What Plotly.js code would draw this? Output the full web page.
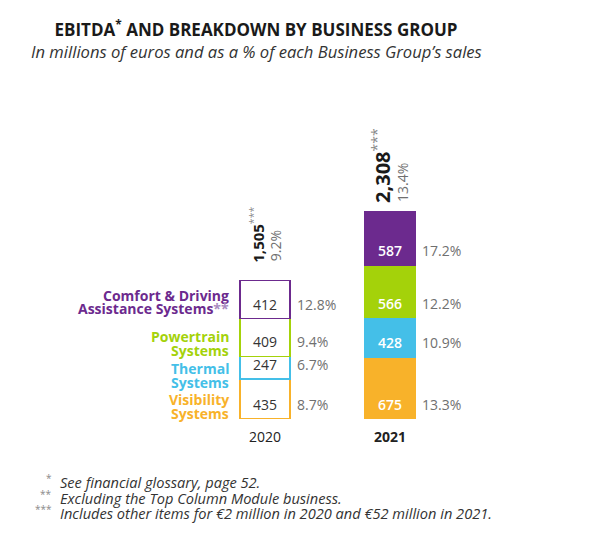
<!DOCTYPE html>
<html>
<head>
<meta charset="utf-8">
<script src="https://cdn.plot.ly/plotly-3.0.1.min.js"></script>
<style>
html,body{margin:0;padding:0;background:#fff;}
#chart{width:602px;height:544px;}
</style>
</head>
<body>
<div id="chart"></div>
<script>
// ---- data ----
const years = ['2020', '2021'];
const yearLabels = ['2020', '<b>2021</b>'];
const groupNames = ['Visibility Systems', 'Thermal Systems', 'Powertrain Systems', 'Comfort & Driving Assistance Systems'];
const visibility = [435, 675];
const thermal = [247, 428];
const powertrain = [409, 566];
const comfort = [412, 587];
const visibilityPct = ['8.7%', '13.3%'];
const thermalPct = ['6.7%', '10.9%'];
const powertrainPct = ['9.4%', '12.2%'];
const comfortPct = ['12.8%', '17.2%'];
const totals = ['1,505', '2,308'];
const totalPct = ['9.2%', '13.4%'];
const footnotes = [
  'See financial glossary, page 52.',
  'Excluding the Top Column Module business.',
  'Includes other items for €2 million in 2020 and €52 million in 2021.'
];
const footStars = ['*', '**', '***'];

// ---- styling ----
const colors = ['#F8B22A', '#44BFE8', '#A4D20A', '#6C2A8E'];
const series = [visibility, thermal, powertrain, comfort];
const pcts = [visibilityPct, thermalPct, powertrainPct, comfortPct];
const FONT = 'Open Sans, Noto Sans, sans-serif';
const W = 602, H = 544, T = 60, B = 125;
const plotH = H - T - B; // 359
const py = p => (H - B - p) / plotH;   // pixel y -> paper y
const px = p => p / W;                 // pixel x -> paper x
const xs = [0, 1];

const traces = series.map((vals, i) => ({
  type: 'bar',
  name: groupNames[i],
  x: xs,
  y: vals,
  width: 0.4,
  marker: {
    color: ['#ffffff', colors[i]],
    line: {color: colors[i], width: 1.5}
  },
  hoverinfo: 'skip',
  showlegend: false
}));

const annotations = [];
// segment value + percent labels
const base = [0, 0];
series.forEach((vals, i) => {
  vals.forEach((v, j) => {
    annotations.push({
      x: xs[j], y: base[j], xref: 'x', yref: 'y',
      text: String(v), showarrow: false,
      xanchor: 'center', yanchor: 'bottom', yshift: 3,
      font: {family: FONT, size: 14, color: j === 0 ? '#333333' : '#ffffff', weight: j === 0 ? 400 : 600}
    });
    annotations.push({
      x: xs[j], y: base[j], xref: 'x', yref: 'y',
      text: pcts[i][j], showarrow: false,
      xanchor: 'left', yanchor: 'bottom', yshift: 3, xshift: 30,
      font: {family: FONT, size: 14, color: '#707070'}
    });
    base[j] += v;
  });
});
// totals (rotated)
const totSize = [15, 20];
const totShiftX = [-8, -8];
const pctShiftX = [10, 13];
const totShiftY = [16, 6];
xs.forEach((x, j) => {
  annotations.push({
    x: x, y: base[j], xref: 'x', yref: 'y',
    text: '<b>' + totals[j] + '</b><sup><span style="color:#8a8a8a">***</span></sup>',
    showarrow: false, textangle: -90,
    xanchor: 'center', yanchor: 'bottom', xshift: totShiftX[j], yshift: totShiftY[j],
    font: {family: FONT, size: totSize[j], color: '#1a1a1a'}
  });
  annotations.push({
    x: x, y: base[j], xref: 'x', yref: 'y',
    text: totalPct[j], showarrow: false, textangle: -90,
    xanchor: 'center', yanchor: 'bottom', xshift: pctShiftX[j], yshift: totShiftY[j] + 1,
    font: {family: FONT, size: 14, color: '#707070'}
  });
});

// group labels left of 2020 bar
const leftLabels = [
  ['Comfort &amp; Driving', 295, 3],
  ['Assistance Systems<span style="color:#a98cc0">**</span>', 308, 3],
  ['Powertrain', 336, 2],
  ['Systems', 350, 2],
  ['Thermal', 368, 1],
  ['Systems', 382, 1],
  ['Visibility', 399, 0],
  ['Systems', 413, 0]
];
leftLabels.forEach(([t, y, ci]) => {
  annotations.push({
    x: px(231), y: py(y), xref: 'paper', yref: 'paper',
    text: '<b>' + t + '</b>', showarrow: false,
    xanchor: 'right', yanchor: 'middle',
    font: {family: FONT, size: 14, color: colors[ci]}
  });
});

// subtitle
annotations.push({
  x: px(256), y: py(52), xref: 'paper', yref: 'paper',
  text: 'In millions of euros and as a % of each Business Group’s sales',
  showarrow: false, xanchor: 'center', yanchor: 'middle',
  font: {family: FONT, size: 16.6, color: '#333333', style: 'italic'}
});

// footnotes
const footY = [482, 498, 513];
footnotes.forEach((t, k) => {
  annotations.push({
    x: px(54), y: py(footY[k] - 4), xref: 'paper', yref: 'paper',
    text: footStars[k], showarrow: false, xanchor: 'right', yanchor: 'middle',
    font: {family: FONT, size: 10, color: '#8a8a8a'}
  });
  annotations.push({
    x: px(58), y: py(footY[k]), xref: 'paper', yref: 'paper',
    text: t, showarrow: false, xanchor: 'left', yanchor: 'middle',
    font: {family: FONT, size: 14.6, color: '#333333', style: 'italic'}
  });
});

const layout = {
  width: W, height: H,
  margin: {l: 0, r: 0, t: T, b: B, pad: 0},
  paper_bgcolor: '#ffffff', plot_bgcolor: '#ffffff',
  barmode: 'stack',
  showlegend: false,
  title: {
    text: '<b>EBITDA<sup>*</sup> AND BREAKDOWN BY BUSINESS GROUP</b>',
    x: px(256), xanchor: 'center', xref: 'container',
    y: 1 - 30 / H, yanchor: 'middle', yref: 'container',
    font: {family: FONT, size: 17, color: '#1a1a1a'}
  },
  xaxis: {
    range: [-265 / 125, (W - 265) / 125],
    tickvals: xs, ticktext: yearLabels,
    showgrid: false, zeroline: false, showline: false, ticks: '',
    tickfont: {family: FONT, size: 14, color: '#222222'},
    ticklabelstandoff: 8,
    fixedrange: true
  },
  yaxis: {
    range: [0, 3902], visible: false, showgrid: false, zeroline: false, fixedrange: true
  },
  annotations: annotations
};

Plotly.newPlot('chart', traces, layout, {displayModeBar: false, staticPlot: true});
</script>
</body>
</html>
